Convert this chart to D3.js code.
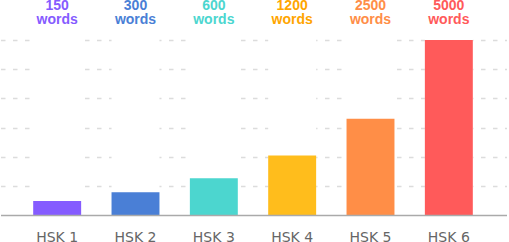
<!DOCTYPE html>
<html>
<head>
<meta charset="utf-8">
<script src="https://cdn.jsdelivr.net/npm/d3@7"></script>
<style>
  html, body { margin: 0; padding: 0; background: #fff; }
  svg { display: block; }
</style>
</head>
<body>
<div id="main-container"></div>
<script>
// DATA
const levels = ["HSK 1", "HSK 2", "HSK 3", "HSK 4", "HSK 5", "HSK 6"];
const words = [150, 300, 600, 1200, 2500, 5000];
const barValues = [8, 13, 21, 34, 55, 100];
const barColours = ["#855bff", "#4a7fd6", "#4cd6cf", "#ffbd1c", "#ff8e47", "#ff5a5a"];
const labelColours = ["#855bff", "#4a7fd6", "#4cd6cf", "#ffa500", "#ff8e47", "#ff5a5a"];
const gridCount = 6;

// CONSTANTS
const width = 509, height = 242;
const plot = {left: 1, right: 507, top: 40, bottom: 215};

let svg = d3.select("#main-container")
    .append("svg")
        .attr("width", width)
        .attr("height", height);

let xAxis = d3.scaleBand()
    .range([18, 488])
    .domain(levels)
    .paddingInner(0.388)
    .paddingOuter(0.194);

let yAxis = d3.scaleLinear()
    .range([plot.bottom, plot.top])
    .domain([0, d3.max(barValues)]);

const gridValues = d3.range(1, gridCount + 1).map((i) => i * d3.max(barValues) / gridCount);

// dashed grid
svg.append("g")
    .selectAll("line")
    .data(gridValues)
    .enter()
    .append("line")
    .attr("x1", plot.left)
    .attr("x2", plot.right)
    .attr("y1", (d) => Math.round(yAxis(d)) + 0.5)
    .attr("y2", (d) => Math.round(yAxis(d)) + 0.5)
    .attr("stroke", "#dcdcdc")
    .attr("stroke-width", 1.5)
    .attr("stroke-dasharray", "4.5,7.5");

const rows = levels.map((l, i) => ({level: l, value: barValues[i], words: words[i], i: i}));

// white columns hide the grid behind each bar
svg.append("g")
    .selectAll("rect")
    .data(rows)
    .enter()
    .append("rect")
    .attr("x", (d) => xAxis(d.level))
    .attr("y", plot.top - 2)
    .attr("width", xAxis.bandwidth())
    .attr("height", plot.bottom - plot.top + 2)
    .style("fill", "#fff");

svg.append("g")
    .selectAll("rect")
    .data(rows)
    .enter()
    .append("rect")
    .attr("x", (d) => xAxis(d.level))
    .attr("y", (d) => yAxis(d.value))
    .attr("width", xAxis.bandwidth())
    .attr("height", (d) => plot.bottom - yAxis(d.value))
    .style("fill", (d) => barColours[d.i]);

// baseline
svg.append("line")
    .attr("x1", plot.left)
    .attr("x2", plot.right)
    .attr("y1", plot.bottom + 0.5)
    .attr("y2", plot.bottom + 0.5)
    .attr("stroke", "#aaaaaa")
    .attr("stroke-width", 1.5);

// x labels
svg.append("g")
    .selectAll("text")
    .data(rows)
    .enter()
    .append("text")
    .attr("x", (d) => xAxis(d.level) + xAxis.bandwidth() / 2)
    .attr("y", 242)
    .attr("text-anchor", "middle")
    .style("font-family", "'DejaVu Sans', Verdana, sans-serif")
    .style("font-size", "14px")
    .style("fill", "#666")
    .text((d) => d.level);

// word counts on top
let wordLabels = svg.append("g")
    .selectAll("text")
    .data(rows)
    .enter()
    .append("text")
    .attr("text-anchor", "middle")
    .style("font-family", "'Liberation Sans', Arial, sans-serif")
    .style("font-size", "14px")
    .style("font-weight", "bold")
    .style("fill", (d) => labelColours[d.i]);

wordLabels.append("tspan")
    .attr("x", (d) => xAxis(d.level) + xAxis.bandwidth() / 2)
    .attr("y", 10)
    .text((d) => d.words);

wordLabels.append("tspan")
    .attr("x", (d) => xAxis(d.level) + xAxis.bandwidth() / 2)
    .attr("y", 24)
    .text("words");
</script>
</body>
</html>
